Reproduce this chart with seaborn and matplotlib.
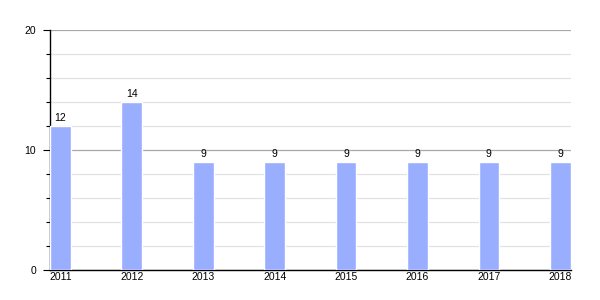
import matplotlib
matplotlib.use("Agg")
import matplotlib.pyplot as plt
import seaborn as sns
import pandas as pd
from matplotlib.ticker import MultipleLocator

years = ["2011", "2012", "2013", "2014", "2015", "2016", "2017", "2018"]
values = [12, 14, 9, 9, 9, 9, 9, 9]

sns.set_theme(style="white")
plt.rcParams['font.family'] = ['Liberation Sans', 'DejaVu Sans']

df = pd.DataFrame({"year": years, "value": values})

fig = plt.figure(figsize=(6, 3), dpi=100)
ax = fig.add_axes([50/600, 0.1, (571-50)/600, 0.8])

sns.barplot(data=df, x="year", y="value", color="#9AAEFF", saturation=1,
            width=0.29, ax=ax, zorder=3)

ax.set_xlim(-0.145, 7.15)
ax.set_ylim(0, 20)
ax.yaxis.set_major_locator(MultipleLocator(10))
ax.yaxis.set_minor_locator(MultipleLocator(2))
ax.grid(axis="y", which="major", color="#A8A8A8", linewidth=0.9, zorder=0)
ax.grid(axis="y", which="minor", color="#E2E2E2", linewidth=0.9, zorder=0)
ax.set_axisbelow(True)

for s in ["top", "right"]:
    ax.spines[s].set_visible(False)
for s in ["left", "bottom"]:
    ax.spines[s].set_color("black")
    ax.spines[s].set_linewidth(1.0)

ax.tick_params(axis="y", which="major", left=True, length=5, width=0.8,
               color="black", labelsize=7.5, pad=5, labelcolor="black")
ax.tick_params(axis="y", which="minor", left=True, length=3, width=0.8,
               color="black")
ax.tick_params(axis="x", bottom=False, length=0, labelsize=7.5, pad=1.5,
               labelcolor="black")
ax.set_xlabel("")
ax.set_ylabel("")

for c in ax.containers:
    ax.bar_label(c, labels=[str(v) for v in values], fontsize=7.5,
                 padding=2, color="black")

fig.savefig("out.png", dpi=100)
